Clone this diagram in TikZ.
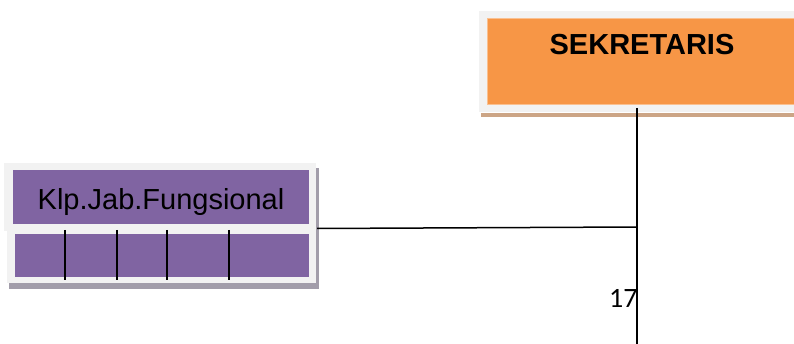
\documentclass[tikz,border=0pt]{standalone}
\usepackage{fontspec}
\setmainfont{Liberation Sans}
\newfontfamily\pagenumfont{Carlito}
\definecolor{framegray}{HTML}{F2F2F2}
\definecolor{orgorange}{HTML}{F79646}
\definecolor{orgtan}{HTML}{CCA586}
\definecolor{orgpurple}{HTML}{8064A2}
\definecolor{purpleshadow}{HTML}{A29DAA}
\tikzset{
  frame/.style={fill=framegray, draw=none},
  orangebox/.style={fill=orgorange, draw=orgorange!60!white, line width=0.6pt},
  purplebox/.style={fill=orgpurple, draw=none},
  link/.style={draw=black, line width=1.5pt},
  divider/.style={draw=black, line width=1.4pt},
  boxlabel/.style={font=\fontsize{29}{34}\selectfont, inner sep=0pt, anchor=base},
}
\begin{document}
\begin{tikzpicture}[x=1pt, y=-1pt]
  \useasboundingbox (0,0) rectangle (794,344);

  % SEKRETARIS box: frame, tan shadow strip, orange body
  \fill[orgtan] (481,113) rectangle (800,117);
  \fill[frame] (479,11) rectangle (800,112);
  \path[orangebox] (487,18) rectangle (800,104);
  \node[boxlabel, font=\fontsize{29}{34}\selectfont\bfseries] (sek) at (642,55) {SEKRETARIS};
  \coordinate (sekbottom) at (637,108);
  \coordinate (pagebottom) at (637,344);

  % Kelompok Jabatan Fungsional box: shadow, frames, purple bodies
  \fill[purpleshadow] (9,168) rectangle (319,289);
  \fill[frame] (4,163) rectangle (316,231);
  \fill[frame] (7,229) rectangle (316,283);
  \node[purplebox, minimum width=296pt, minimum height=54pt, inner sep=0pt] (jabtop) at (161,197) {};
  \node[purplebox, minimum width=294pt, minimum height=43pt, inner sep=0pt] (jabbot) at (162,255.5) {};
  \node[boxlabel] (jablabel) at (161,210) {Klp.Jab.Fungsional};

  % dividers hanging into the lower purple strip
  \foreach \x [count=\i] in {65,117,167,229} {
    \coordinate (dtop\i) at (\x,230);
    \coordinate (dbot\i) at (\x,280);
    \draw[divider] (dtop\i) -- (dbot\i);
  }

  % connectors
  \coordinate (jabright) at (317,228.5);
  \coordinate (junction) at (637,227);
  \draw[link] (sekbottom) -- (pagebottom);
  \draw[link] (jabright) -- (junction);

  % page number
  \node[inner sep=0pt, anchor=base west, font=\pagenumfont\fontsize{28}{32}\selectfont] (pagenum) at (609,307) {17};
\end{tikzpicture}
\end{document}
